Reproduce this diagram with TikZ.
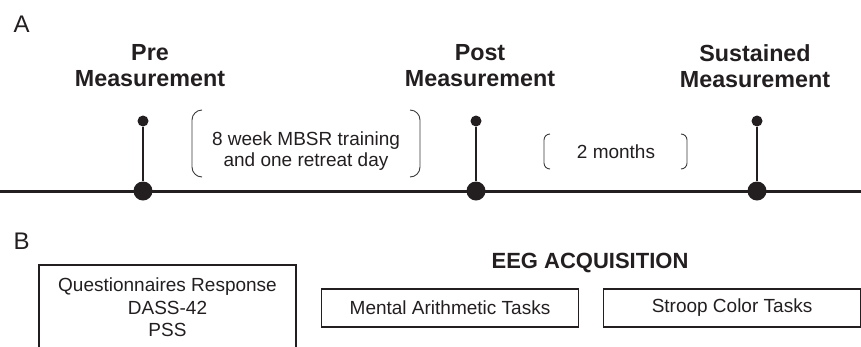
\documentclass[tikz,border=0pt]{standalone}
\usepackage{fontspec}
\setmainfont{Liberation Sans}
\usepackage{xcolor}
\usepackage{tikz}
\definecolor{mydark}{HTML}{231F20}
\definecolor{mygray}{HTML}{3A3A3A}
\tikzset{
  bigdot/.style={circle, fill=mydark, inner sep=0pt, minimum size=19pt},
  smalldot/.style={circle, fill=mydark, inner sep=0pt, minimum size=11pt},
  phase/.style={align=center, inner sep=0pt, font=\fontsize{23.3}{26}\selectfont\bfseries},
  taskbox/.style={draw=mydark, line width=1.2pt, inner sep=0pt, minimum width=257pt, minimum height=38pt, font=\fontsize{19}{22.7}\selectfont},
  brk/.style={draw=mygray, line width=0.9pt}
}

\begin{document}
\begin{tikzpicture}[x=1pt, y=-1pt, every node/.style={text=mydark}]
\useasboundingbox (0,0) rectangle (861,346);
\clip (0,0) rectangle (861,346);

\node[anchor=base west, font=\fontsize{24}{26}\selectfont] (lblA) at (10,32) {A};
\node[anchor=base west, font=\fontsize{24}{26}\selectfont] (lblB) at (10,249) {B};

\node[phase] (pre) at (150,66) {Pre\\Measurement};
\node[phase] (post) at (480,66) {Post\\Measurement};
\node[phase] (sust) at (755,66) {Sustained\\Measurement};

% time line
\coordinate (tl) at (0,191);
\coordinate (tr) at (861,191);
\draw[mydark, line width=3pt] (tl) -- (tr);

\node[bigdot] (t1) at (143,191) {};
\node[bigdot] (t2) at (476,191) {};
\node[bigdot] (t3) at (757,191) {};
\node[smalldot] (s1) at (143,121) {};
\node[smalldot] (s2) at (476,121) {};
\node[smalldot] (s3) at (757,121) {};

\draw[mydark, line width=1.5pt] (s1) -- (t1);
\draw[mydark, line width=1.5pt] (s2) -- (t2);
\draw[mydark, line width=1.5pt] (s3) -- (t3);

% intervals
\node[align=center, inner sep=0pt, font=\fontsize{19}{21.5}\selectfont] (mbsr) at (306,151) {8 week MBSR training\\and one retreat day};
\draw[brk, rounded corners=10pt] (202,110) -- (192,110) -- (192,177) -- (202,177);
\draw[brk, rounded corners=10pt] (410,110) -- (420,110) -- (420,177) -- (410,177);

\node[inner sep=0pt, font=\fontsize{19}{21.5}\selectfont] (gap) at (616,152) {2 months};
\draw[brk, rounded corners=6pt] (550,134) -- (544,134) -- (544,169) -- (550,169);
\draw[brk, rounded corners=6pt] (681,134) -- (687,134) -- (687,169) -- (681,169);

% measures
\node[taskbox, align=center, minimum height=85pt] (quest) at (167.5,307.5) {Questionnaires Response\\DASS-42\\PSS};
\node[anchor=base, font=\fontsize{22}{24}\selectfont\bfseries] (eeg) at (590,268) {EEG ACQUISITION};
\node[taskbox] (mental) at (450,308) {Mental Arithmetic Tasks};
\node[taskbox] (stroop) at (732,308) {Stroop Color Tasks};

\end{tikzpicture}
\end{document}
